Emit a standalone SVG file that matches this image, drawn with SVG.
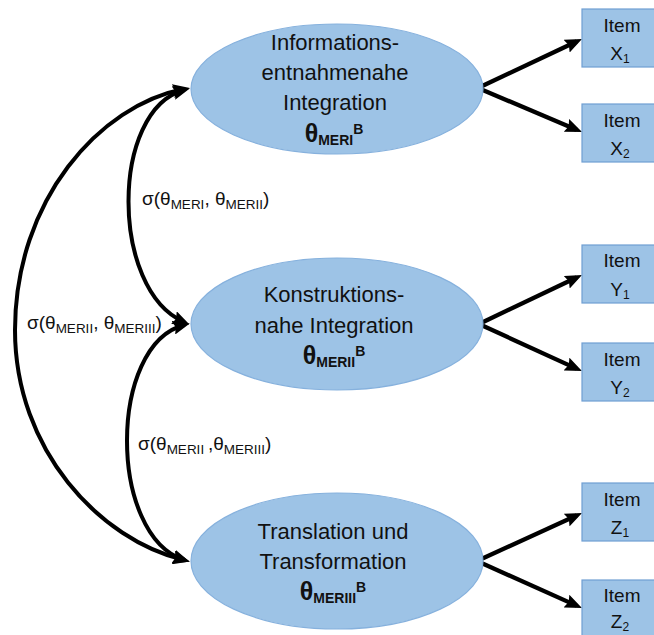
<svg xmlns="http://www.w3.org/2000/svg" width="654" height="635" viewBox="0 0 654 635">
  <style>
    .factor { fill: #9dc3e6; stroke: #86b1dd; stroke-width: 1.2; }
    .item { fill: #9dc3e6; stroke: #6f9fd3; stroke-width: 1.2; }
    .lbl { font-family: "Liberation Sans", Arial, sans-serif; fill: #111; }
    .ftxt { font-size: 22px; text-anchor: middle; }
    .itxt { font-size: 19px; text-anchor: middle; }
    .theta { font-size: 25px; font-weight: bold; text-anchor: middle; }
    .sub { font-size: 14px; font-weight: bold; }
    .cov { font-size: 19px; }
    .csub { font-size: 13.5px; }
    .wire { fill: none; stroke: #000; stroke-width: 4; }
    .load { fill: none; stroke: #000; stroke-width: 4.3; }
  </style>
  <defs>
    <marker id="tip" viewBox="0 0 17 14" refX="11" refY="7" markerWidth="17" markerHeight="14" markerUnits="userSpaceOnUse" orient="auto-start-reverse">
      <path d="M0,0 L17,7 L0,14 L2.5,7 z" fill="#000"/>
    </marker>
  </defs>

  <!-- connectors: covariances (left) and loadings (right) -->
  <g id="connectors">
    <path class="wire" d="M184,89 C100,105 15,200 15,330 C15,450 100,540 184,560" marker-start="url(#tip)" marker-end="url(#tip)"/>
    <path class="wire" d="M184,90 C110,110 110,290 184,322" marker-start="url(#tip)" marker-end="url(#tip)"/>
    <path class="wire" d="M184,325 C108,345 108,535 184,560" marker-start="url(#tip)" marker-end="url(#tip)"/>

    <line class="load" x1="478" y1="88" x2="576.6" y2="41.5" marker-end="url(#tip)"/>
    <line class="load" x1="478" y1="88" x2="576.5" y2="129.7" marker-end="url(#tip)"/>
    <line class="load" x1="479" y1="324" x2="576.6" y2="277.5" marker-end="url(#tip)"/>
    <line class="load" x1="479" y1="324" x2="576.5" y2="368.6" marker-end="url(#tip)"/>
    <line class="load" x1="477" y1="561" x2="576.6" y2="515.5" marker-end="url(#tip)"/>
    <line class="load" x1="477" y1="561" x2="576.5" y2="605.6" marker-end="url(#tip)"/>
  </g>

  <!-- covariance labels -->
  <g id="cov-labels" class="lbl cov">
    <text x="142" y="205">σ(θ<tspan class="csub" dy="4">MERI</tspan><tspan dy="-4">, θ</tspan><tspan class="csub" dy="4">MERII</tspan><tspan dy="-4">)</tspan></text>
    <text x="27" y="329">σ(θ<tspan class="csub" dy="4">MERII</tspan><tspan dy="-4">, θ</tspan><tspan class="csub" dy="4">MERIII</tspan><tspan dy="-4">)</tspan></text>
    <text x="138" y="450">σ(θ<tspan class="csub" dy="4">MERII </tspan><tspan dy="-4">,θ</tspan><tspan class="csub" dy="4">MERIII</tspan><tspan dy="-4">)</tspan></text>
  </g>

  <!-- latent factors -->
  <g id="factor-meri">
    <ellipse class="factor" cx="337" cy="89" rx="146" ry="65"/>
    <text class="lbl ftxt" x="335" y="50">Informations-</text>
    <text class="lbl ftxt" x="335" y="80">entnahmenahe</text>
    <text class="lbl ftxt" x="335" y="110">Integration</text>
    <text class="lbl theta" x="334" y="142">θ<tspan class="sub" dy="3">MERI</tspan><tspan class="sub" dy="-11">B</tspan></text>
  </g>
  <g id="factor-merii">
    <ellipse class="factor" cx="337" cy="324" rx="146" ry="66"/>
    <text class="lbl ftxt" x="334" y="302">Konstruktions-</text>
    <text class="lbl ftxt" x="334" y="333">nahe Integration</text>
    <text class="lbl theta" x="334" y="364">θ<tspan class="sub" dy="3">MERII</tspan><tspan class="sub" dy="-11">B</tspan></text>
  </g>
  <g id="factor-meriii">
    <ellipse class="factor" cx="337" cy="561" rx="146" ry="68"/>
    <text class="lbl ftxt" x="333" y="539">Translation und</text>
    <text class="lbl ftxt" x="333" y="569">Transformation</text>
    <text class="lbl theta" x="333" y="600">θ<tspan class="sub" dy="3">MERIII</tspan><tspan class="sub" dy="-11">B</tspan></text>
  </g>

  <!-- indicator items -->
  <g id="item-x1">
    <rect class="item" x="582" y="9" width="80" height="58"/>
    <text class="lbl itxt" x="622" y="32">Item</text>
    <text class="lbl itxt" x="620" y="60">X<tspan font-size="12" dy="3">1</tspan></text>
  </g>
  <g id="item-x2">
    <rect class="item" x="582" y="104" width="80" height="58"/>
    <text class="lbl itxt" x="622" y="127">Item</text>
    <text class="lbl itxt" x="620" y="155">X<tspan font-size="12" dy="3">2</tspan></text>
  </g>
  <g id="item-y1">
    <rect class="item" x="582" y="245" width="80" height="58"/>
    <text class="lbl itxt" x="622" y="267">Item</text>
    <text class="lbl itxt" x="620" y="296">Y<tspan font-size="12" dy="3">1</tspan></text>
  </g>
  <g id="item-y2">
    <rect class="item" x="582" y="343" width="80" height="58"/>
    <text class="lbl itxt" x="622" y="366">Item</text>
    <text class="lbl itxt" x="620" y="394">Y<tspan font-size="12" dy="3">2</tspan></text>
  </g>
  <g id="item-z1">
    <rect class="item" x="582" y="483" width="80" height="58"/>
    <text class="lbl itxt" x="622" y="506">Item</text>
    <text class="lbl itxt" x="620" y="534">Z<tspan font-size="12" dy="3">1</tspan></text>
  </g>
  <g id="item-z2">
    <rect class="item" x="582" y="580" width="80" height="58"/>
    <text class="lbl itxt" x="622" y="602">Item</text>
    <text class="lbl itxt" x="620" y="628">Z<tspan font-size="12" dy="3">2</tspan></text>
  </g>
</svg>
